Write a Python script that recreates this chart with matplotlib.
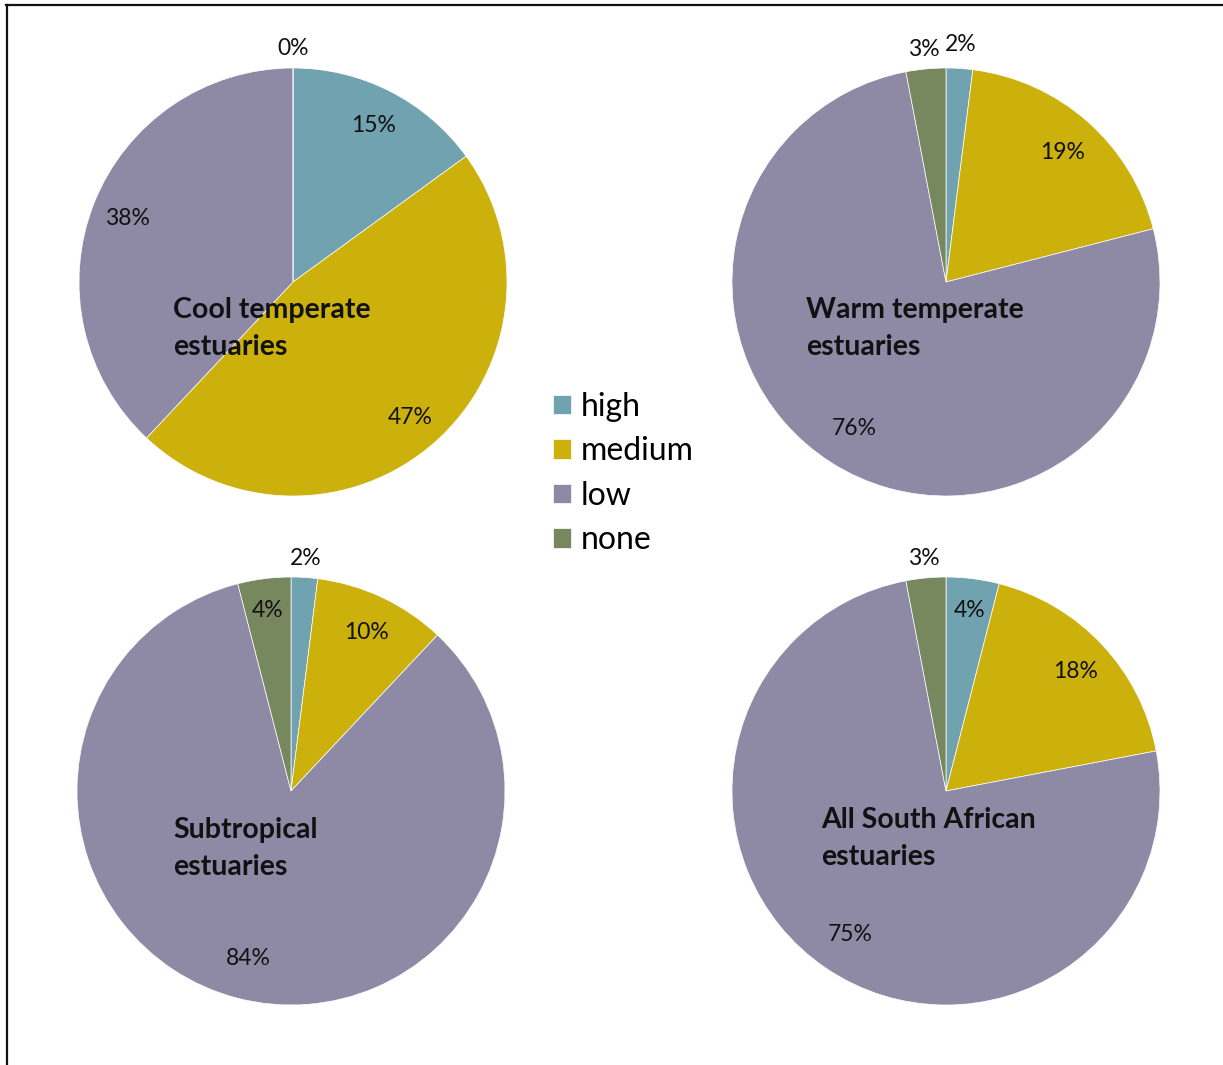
import matplotlib.pyplot as plt
import numpy as np
from matplotlib.lines import Line2D

W, H = 1223, 1065

categories = ["high", "medium", "low", "none"]
colors = ["#71a2b0", "#ccb00b", "#8e89a4", "#77875e"]

titles = [
    ("Cool temperate", "estuaries"),
    ("Warm temperate", "estuaries"),
    ("Subtropical", "estuaries"),
    ("All South African", "estuaries"),
]
cool_temperate = [15, 47, 38, 0]
warm_temperate = [2, 19, 76, 3]
subtropical = [2, 10, 84, 4]
all_south_african = [4, 18, 75, 3]

# layout (pixel coordinates, y measured from the top)
centers = [(293, 282), (946, 282), (291, 791), (946, 791)]
radius = 214
title_pos = [(173, 318), (806, 318), (173, 838), (821, 828)]
line_gap = 37
# label distance per slice, as fraction of radius
label_dist = [
    [0.83, 0.83, 0.83, 1.10],
    [1.12, 0.82, 0.80, 1.10],
    [1.10, 0.83, 0.80, 0.86],
    [0.86, 0.83, 0.80, 1.10],
]

plt.rcParams["font.family"] = ["Lato", "DejaVu Sans"]

fig = plt.figure(figsize=(W / 100, H / 100), dpi=100)
ax = fig.add_axes([0, 0, 1, 1])

series = [cool_temperate, warm_temperate, subtropical, all_south_african]
handles = None
for k, values in enumerate(series):
    cx, cy = centers[k]
    wedges, _ = ax.pie(
        values,
        colors=colors,
        startangle=90,
        counterclock=False,
        radius=radius,
        center=(cx, H - cy),
        wedgeprops=dict(edgecolor="white", linewidth=0.5),
    )
    if handles is None:
        handles = wedges

    total = sum(values)
    cum = 0
    for i, v in enumerate(values):
        mid = np.deg2rad(90 - 360 * (cum + v / 2) / total)
        r = radius * label_dist[k][i]
        ax.text(
            cx + r * np.cos(mid),
            H - cy + r * np.sin(mid),
            f"{v}%",
            ha="center",
            va="center_baseline",
            fontsize=16.5,
            color="#111111",
        )
        cum += v

    tx, ty = title_pos[k]
    for j, line in enumerate(titles[k]):
        ax.text(tx, H - (ty + j * line_gap), line, ha="left", va="baseline",
                fontsize=20.5, fontweight="bold", color="#111111")

ax.set_xlim(0, W)
ax.set_ylim(0, H)
ax.set_aspect("equal")
ax.axis("off")

ax.legend(
    handles,
    categories,
    loc="upper left",
    bbox_to_anchor=(553 / W, 1 - 392 / H),
    frameon=False,
    borderpad=0,
    borderaxespad=0,
    fontsize=23,
    handlelength=0.56,
    handleheight=0.56,
    handletextpad=0.32,
    labelspacing=0.45,
)

# outer frame (top and left edges)
ax.add_line(Line2D([6, W], [H - 4.5, H - 4.5], color="#111111", lw=1.6, clip_on=False))
ax.add_line(Line2D([7, 7], [0, H - 4.5], color="#111111", lw=1.6, clip_on=False))

fig.savefig("out.png", dpi=100)
